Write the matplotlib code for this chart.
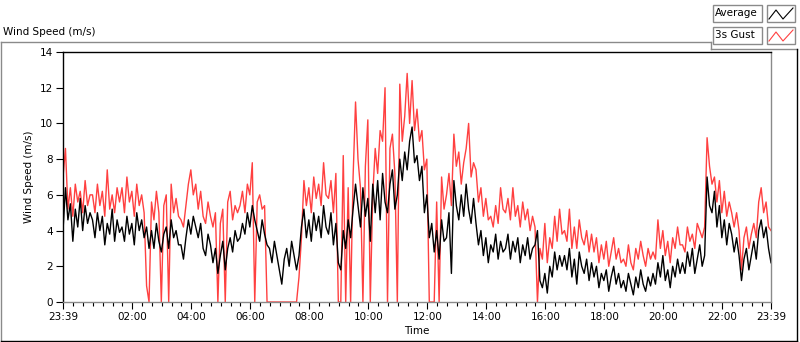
import numpy as np
import matplotlib
matplotlib.use("Agg")
import matplotlib.pyplot as plt
from matplotlib.lines import Line2D
from matplotlib.patches import Rectangle

# 5-minute samples from 23:39 to 23:39 next day (one row per hour)
avg_speed = [
    4.0, 6.4, 4.6, 5.5, 3.4, 5.2, 4.2, 5.8, 4.0, 5.4, 4.4, 5.0,
    4.6, 3.6, 5.0, 4.0, 4.8, 3.2, 4.4, 3.8, 5.2, 3.4, 4.6, 3.9,
    4.2, 3.4, 4.8, 3.8, 4.4, 3.2, 5.0, 4.0, 4.6, 3.6, 4.2, 3.0,
    4.0, 3.0, 4.4, 3.4, 2.8, 3.8, 4.2, 3.0, 4.6, 3.6, 4.0, 3.2,
    3.2, 2.4, 3.6, 4.6, 3.8, 4.8, 4.2, 3.6, 4.4, 3.0, 2.6, 3.8,
    3.2, 2.2, 3.0, 1.6, 2.6, 3.4, 1.8, 3.0, 3.6, 2.8, 4.0, 3.4,
    3.6, 4.4, 3.8, 5.0, 4.2, 5.4, 4.6, 4.0, 3.4, 4.6, 3.8, 3.2,
    3.0, 2.2, 3.4, 2.6, 1.8, 1.0, 2.4, 3.0, 2.0, 3.4, 2.6, 1.8,
    2.6, 4.2, 5.2, 3.6, 4.6, 3.4, 5.0, 4.0, 4.8, 3.6, 5.4, 4.2,
    3.8, 5.0, 3.2, 4.4, 2.2, 1.8, 4.0, 3.0, 4.6, 3.6, 5.2, 6.6,
    5.4, 4.2, 6.4, 4.8, 5.8, 3.4, 6.6, 5.0, 6.8, 4.6, 7.2, 5.6,
    5.0, 6.6, 7.4, 5.2, 6.0, 8.0, 6.8, 8.4, 7.4, 9.0, 9.8, 7.8,
    8.2, 6.8, 7.6, 5.0, 6.0, 3.6, 4.4, 2.8, 4.0, 2.4, 4.6, 3.4,
    3.6, 5.0, 1.6, 6.8, 5.4, 4.6, 6.0, 4.8, 6.6, 5.2, 4.4, 5.8,
    4.4, 3.2, 4.0, 2.6, 3.6, 2.2, 3.2, 2.8, 3.8, 2.4, 3.4, 2.8,
    3.0, 3.8, 2.4, 3.4, 2.8, 3.6, 2.2, 3.2, 2.6, 3.6, 2.4, 3.0,
    3.2, 4.0, 1.2, 0.8, 1.6, 0.5, 2.0, 1.4, 2.8, 1.8, 2.6, 2.0,
    2.6, 1.8, 3.0, 1.4, 2.4, 1.0, 2.8, 2.0, 1.6, 2.4, 1.2, 2.2,
    1.4, 2.0, 0.8, 1.6, 1.2, 1.8, 0.6, 1.4, 2.0, 1.0, 1.6, 0.8,
    1.2, 0.6, 1.6, 1.0, 0.4, 1.4, 0.8, 1.8, 1.0, 0.6, 1.4, 0.9,
    1.6, 1.0, 2.2, 1.4, 2.6, 1.2, 1.8, 0.8, 2.0, 1.4, 2.4, 1.6,
    2.2, 1.6, 2.8, 2.0, 3.0, 1.6, 2.4, 3.2, 2.0, 2.6, 7.0, 5.4,
    5.0, 6.2, 4.2, 5.4, 3.6, 4.6, 3.2, 4.4, 3.8, 2.8, 3.6, 2.6,
    1.2, 2.4, 3.0, 1.8, 2.6, 3.4, 2.4, 4.0, 4.6, 3.6, 4.2, 3.0, 2.2,
]

gust_speed = [
    7.0, 8.6, 5.2, 6.4, 4.8, 6.6, 5.6, 6.2, 5.0, 6.8, 5.4, 6.0,
    6.0, 5.0, 6.6, 5.4, 6.2, 4.8, 7.4, 5.2, 6.0, 5.0, 6.4, 5.6,
    6.4, 5.0, 7.0, 5.6, 6.2, 4.8, 6.6, 5.4, 6.0, 5.0, 0.9, 0.0,
    5.6, 4.6, 6.2, 5.0, 0.0, 5.4, 6.0, 0.0, 6.6, 5.0, 5.8, 4.8,
    4.6, 4.2, 5.4, 6.6, 7.4, 6.0, 6.6, 5.2, 6.2, 4.8, 4.4, 5.6,
    4.8, 4.2, 5.0, 0.0, 4.4, 5.2, 0.0, 5.6, 6.2, 4.6, 5.4, 5.0,
    5.4, 6.2, 5.0, 6.6, 6.0, 7.8, 0.0, 5.6, 6.0, 5.2, 5.4, 0.0,
    0.0, 0.0, 0.0, 0.0, 0.0, 0.0, 0.0, 0.0, 0.0, 0.0, 0.0, 0.0,
    1.4, 3.6, 6.8, 5.4, 6.4, 5.0, 7.0, 5.8, 6.6, 5.4, 7.8, 6.0,
    5.8, 6.8, 5.0, 7.2, 0.0, 0.0, 8.2, 0.0, 6.4, 0.0, 7.0, 11.2,
    8.0, 6.4, 0.0, 7.6, 10.2, 0.0, 6.0, 8.6, 7.2, 9.6, 9.0, 12.0,
    0.0, 8.6, 9.4, 7.2, 0.0, 12.2, 9.0, 10.4, 12.8, 10.0, 12.4, 9.6,
    10.8, 9.0, 9.6, 7.4, 8.0, 0.0, 0.0, 0.0, 5.6, 0.0, 7.0, 5.2,
    6.0, 7.2, 5.4, 9.4, 7.6, 8.4, 6.6, 7.8, 8.6, 10.0, 7.0, 7.8,
    7.4, 5.6, 6.4, 4.8, 5.8, 4.6, 4.8, 4.2, 5.4, 4.4, 6.4, 5.2,
    5.0, 5.8, 4.6, 6.4, 4.8, 5.4, 4.2, 5.6, 4.6, 5.2, 4.0, 4.8,
    4.2, 0.0, 3.0, 2.4, 4.4, 2.2, 3.6, 3.0, 4.8, 3.4, 5.2, 3.8,
    4.0, 3.4, 5.2, 3.0, 4.2, 3.0, 4.6, 3.6, 3.2, 4.0, 2.8, 3.8,
    2.8, 3.6, 2.2, 3.2, 2.4, 3.4, 2.0, 2.8, 3.6, 2.4, 3.0, 2.2,
    2.4, 2.0, 3.2, 2.2, 1.8, 3.0, 2.4, 3.4, 2.6, 2.0, 3.0, 2.4,
    2.8, 2.4, 4.6, 3.0, 4.0, 2.6, 3.4, 2.2, 3.6, 3.0, 4.2, 3.2,
    3.2, 2.8, 4.2, 3.4, 3.8, 3.0, 4.4, 4.0, 3.6, 4.2, 9.2, 7.6,
    6.6, 7.0, 5.6, 6.8, 5.0, 6.2, 4.8, 5.6, 5.0, 4.2, 5.0, 4.0,
    1.8, 3.6, 4.2, 3.0, 3.8, 4.4, 3.6, 5.6, 6.4, 5.0, 5.6, 4.2, 4.0,
]

minutes = np.arange(len(avg_speed)) * 5  # minutes after 23:39

tick_labels = ["23:39", "02:00", "04:00", "06:00", "08:00", "10:00",
               "12:00", "14:00", "16:00", "18:00", "20:00", "22:00", "23:39"]
tick_pos = [0] + [21 + 120 * k + 120 for k in range(11)] + [1440]

W, H = 800, 342
fig = plt.figure(figsize=(W / 100, H / 100), dpi=100)
fs = 7.5

def fx(x):
    return x / W

def fy(y):
    return 1 - y / H

# outer panel frame
gray = "#8a8a8a"
fig.add_artist(Line2D([fx(0.5), fx(0.5)], [fy(42), fy(341)], color=gray, lw=1))
fig.add_artist(Line2D([fx(0.5), fx(711)], [fy(42), fy(42)], color=gray, lw=1))
fig.add_artist(Line2D([fx(711), fx(711)], [fy(42), fy(49)], color=gray, lw=1))
fig.add_artist(Line2D([fx(711), fx(797)], [fy(49), fy(49)], color=gray, lw=1))
fig.add_artist(Line2D([fx(797), fx(797)], [fy(49), fy(341)], color="black", lw=1))
fig.add_artist(Line2D([fx(0.5), fx(797)], [fy(341), fy(341)], color="black", lw=1))

fig.text(fx(3), fy(32), "Wind Speed (m/s)", fontsize=fs, va="center", ha="left")

# legend boxes
for i, (name, col) in enumerate([("Average", "black"), ("3s Gust", "#ff4040")]):
    y0 = 5 + i * 22
    fig.add_artist(Rectangle((fx(713), fy(y0 + 17)), (762 - 713) / W, 17 / H,
                             transform=fig.transFigure, fc="white", ec=gray, lw=1))
    fig.add_artist(Rectangle((fx(767), fy(y0 + 17)), (795 - 767) / W, 17 / H,
                             transform=fig.transFigure, fc="white", ec=gray, lw=1))
    fig.text(fx(715), fy(y0 + 8.5), name, fontsize=fs, va="center", ha="left")
    fig.add_artist(Line2D([fx(769), fx(776), fx(783), fx(793)],
                          [fy(y0 + 14), fy(y0 + 5), fy(y0 + 14), fy(y0 + 3)],
                          color=col, lw=0.8))

ax = fig.add_axes([fx(63), fy(302), (771 - 63) / W, 250 / H])
ax.plot(minutes, gust_speed, color="#ff4040", lw=1.0)
ax.plot(minutes, avg_speed, color="black", lw=1.0)

ax.set_xlim(0, 1440)
ax.set_ylim(0, 14)
ax.set_yticks(np.arange(0, 15, 2))
ax.set_xticks(tick_pos)
ax.set_xticklabels(tick_labels)
ax.set_xticks(np.arange(21, 1440, 20), minor=True)
ax.tick_params(axis="both", labelsize=fs, length=5, width=0.8, pad=2)
ax.tick_params(axis="x", which="minor", length=3, width=0.8)
ax.set_xlabel("Time", fontsize=fs, labelpad=3)
ax.set_ylabel("Wind Speed (m/s)", fontsize=fs, labelpad=4)

for s in ("top", "left"):
    ax.spines[s].set_color("black")
for s in ("right", "bottom"):
    ax.spines[s].set_color(gray)
for s in ax.spines.values():
    s.set_linewidth(1)

fig.savefig("out.png", dpi=100)
